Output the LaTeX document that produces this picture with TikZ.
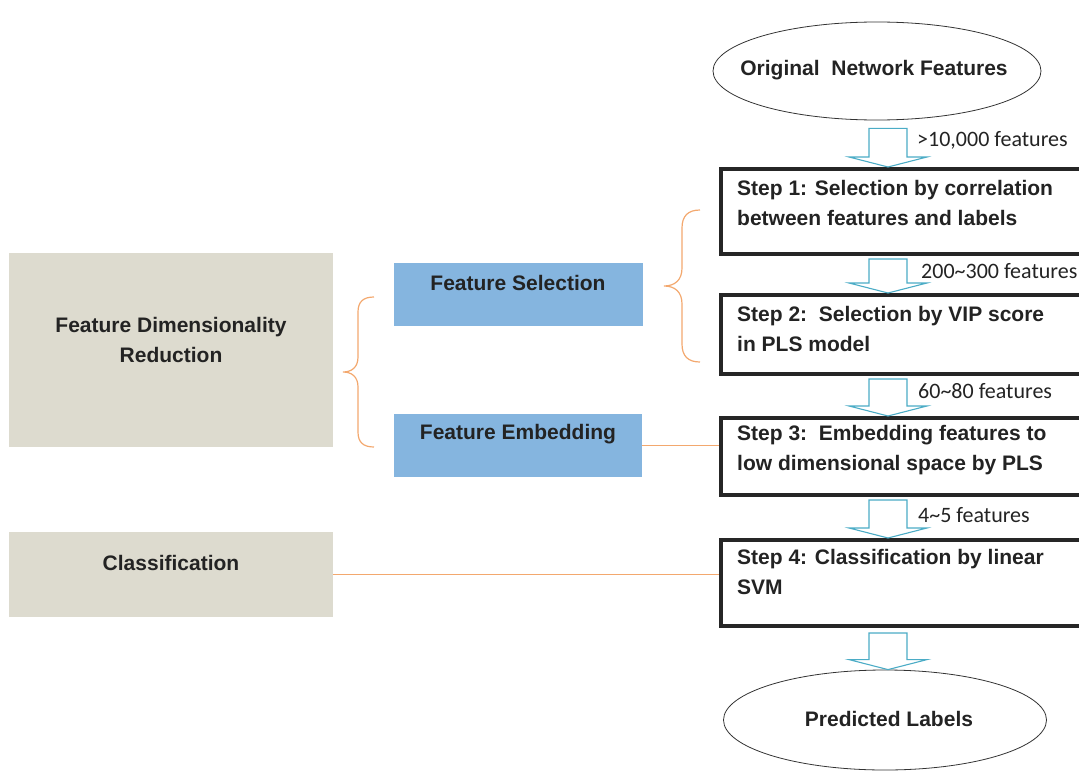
\documentclass[tikz,border=0pt]{standalone}
\usepackage{fontspec}
\setmainfont{Liberation Sans}
\newfontfamily\calib{Carlito}
\usetikzlibrary{calc,shapes.geometric}
\definecolor{grayfill}{RGB}{221,219,207}
\definecolor{bluefill}{RGB}{133,181,223}
\definecolor{orangeln}{RGB}{243,168,110}
\definecolor{arrowln}{RGB}{75,172,198}
\definecolor{txt}{RGB}{35,35,35}
\newcommand\flowarrow[3]{%
  \path (ax |- #1.south) coordinate (s) (ax |- #2.north) coordinate (t);
  \draw[blockarrow] ($(s)+(-19,#3)$) -- ($(s)+(19,#3)$) -- ($(t)+(19,-10)$) -- ($(t)+(39,-10)$)
    -- (t) -- ($(t)+(-39,-10)$) -- ($(t)+(-19,-10)$) -- cycle;}
\begin{document}
\begin{tikzpicture}[x=1pt,y=-1pt,
  boxtext/.style={font=\bfseries\fontsize{21}{30}\selectfont, text=txt, align=center, inner sep=0pt},
  graybox/.style={fill=grayfill, draw=none, anchor=north west, inner sep=0pt},
  bluebox/.style={fill=bluefill, draw=none, anchor=north west, inner sep=0pt},
  stepbox/.style={draw=black!85, line width=4pt, fill=white, anchor=north west, inner sep=0pt,
    minimum width=360pt},
  steptext/.style={anchor=west, align=left, text=txt, inner sep=0pt,
    font=\bfseries\fontsize{21}{30}\selectfont},
  ovalnode/.style={ellipse, draw=black!80, line width=0.8pt, inner sep=0pt},
  lbl/.style={anchor=west, font=\calib\fontsize{22}{26}\selectfont, text=txt, inner sep=0pt},
  blockarrow/.style={draw=arrowln, fill=white, line width=1.1pt, line join=miter},
  brace/.style={draw=orangeln, line width=1.2pt},
  orline/.style={draw=orangeln, line width=1.2pt}]
\useasboundingbox (0,0) rectangle (1079,771);
\coordinate (ax) at (888,0);

% left category boxes
\node[graybox, minimum width=324pt, minimum height=194pt] (fdr) at (9,253) {};
\node[boxtext] (fdrt) at (171,340) {Feature Dimensionality\\Reduction};
\node[graybox, minimum width=324pt, minimum height=85pt] (cls) at (9,532) {};
\node[boxtext] (clst) at (171,563) {Classification};

% blue boxes
\node[bluebox, minimum width=249pt, minimum height=63pt] (fs) at (394,263) {};
\node[boxtext] (fst) at (518,283) {Feature Selection};
\node[bluebox, minimum width=248pt, minimum height=63pt] (fe) at (394,414) {};
\node[boxtext] (fet) at (518,434) {Feature Embedding};

% ellipses
\node[ovalnode, minimum width=328pt, minimum height=98pt] (orig) at (877,71) {};
\node[boxtext] (origt) at (874,70) {Original\ \ Network Features};
\node[ovalnode, minimum width=323pt, minimum height=100pt] (pred) at (885,720) {};
\node[boxtext] (predt) at (889,719) {Predicted Labels};

% step boxes
\node[stepbox, minimum height=85pt] (s1) at (719,167) {};
\node[steptext] (s1t) at (737,202.5) {Step 1: Selection by correlation\\between features and labels};
\node[stepbox, minimum height=79pt] (s2) at (719,293) {};
\node[steptext] (s2t) at (737,328.5) {Step 2:\ \ Selection by VIP score\\in PLS model};
\node[stepbox, minimum height=77pt] (s3) at (719,416) {};
\node[steptext] (s3t) at (737,450.5) {Step 3:\ \ Embedding features to\\low dimensional space by PLS};
\node[stepbox, minimum height=86pt] (s4) at (719,538) {};
\node[steptext] (s4t) at (737,572) {Step 4: Classification by linear\\SVM};

% block arrows
\flowarrow{orig}{s1}{8}
\flowarrow{s1}{s2}{3}
\flowarrow{s2}{s3}{3}
\flowarrow{s3}{s4}{3}
\flowarrow{s4}{pred}{5}

% arrow labels
\node[lbl] (l1) at (917,140) {>10,000 features};
\node[lbl] (l2) at (921,271) {200\textasciitilde 300 features};
\node[lbl] (l3) at (918,391) {60\textasciitilde 80 features};
\node[lbl] (l4) at (918,515) {4\textasciitilde 5 features};

% braces
\draw[brace] (374,297) .. controls (363,297) and (358,302) .. (358,312) -- (358,357)
  .. controls (358,367) and (352,372) .. (343,372) .. controls (352,372) and (358,377) .. (358,387)
  -- (358,432) .. controls (358,442) and (363,447) .. (374,447);
\draw[brace] (700,210) .. controls (688,210) and (682,216) .. (682,228) -- (682,268)
  .. controls (682,280) and (675,286) .. (664,286) .. controls (675,286) and (682,292) .. (682,304)
  -- (682,344) .. controls (682,356) and (688,362) .. (700,362);

% connectors
\draw[orline] (fe.east) -- (fe.east -| s3.west);
\draw[orline] (cls.east) -- (cls.east -| s4.west);
\end{tikzpicture}
\end{document}
